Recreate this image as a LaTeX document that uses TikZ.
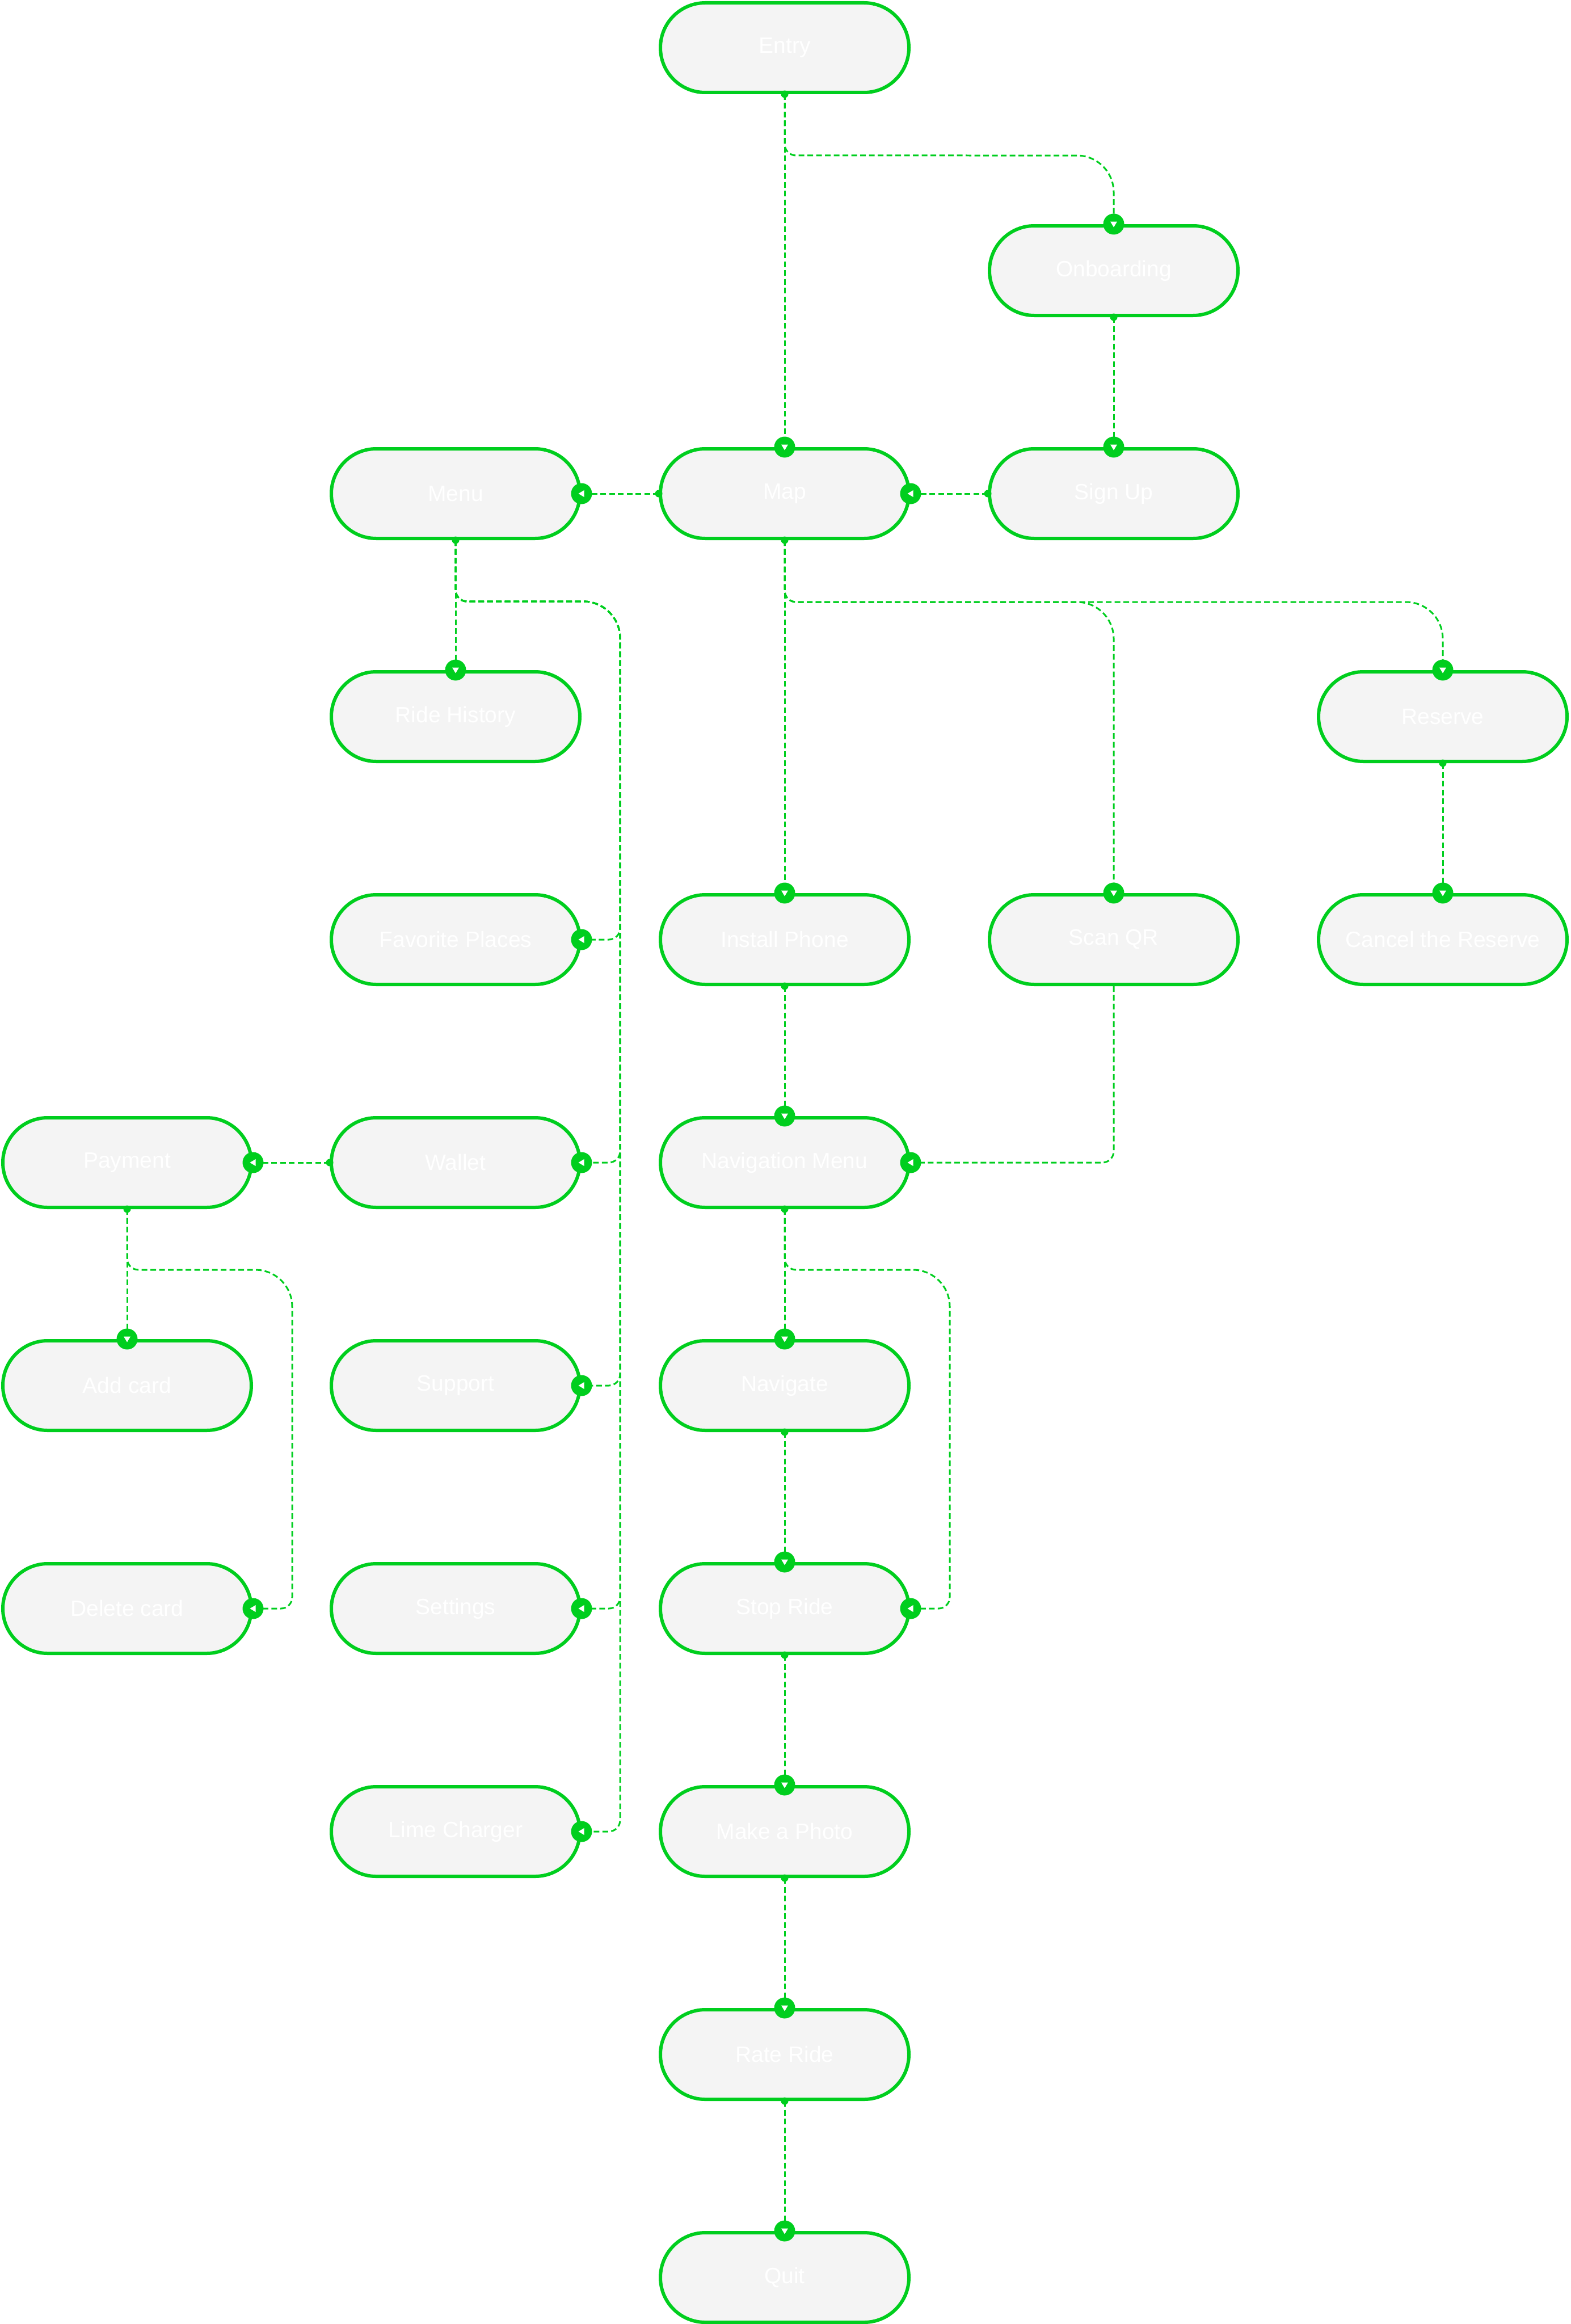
\documentclass[tikz,border=0pt]{standalone}
\usepackage{fontspec}
\setmainfont{Liberation Sans}
\usetikzlibrary{calc}
\definecolor{flowgreen}{RGB}{0,206,30}
\definecolor{flowgray}{RGB}{244,244,244}

% round end tip with a small white triangle, #2 = turn (0 = down)
\newcommand{\tipin}[2]{%
  \begin{scope}[shift={#1}, rotate=#2]
    \fill[flowgreen] (0,0) circle (0.185);
    \fill[white] (0,-0.055) -- (-0.06,0.045) -- (0.06,0.045) -- cycle;
  \end{scope}}
\newcommand{\tipout}[1]{\fill[flowgreen] #1 circle (0.065);}

\begin{document}
\begin{tikzpicture}[
	screen/.style = {draw=flowgreen, line width=0.6mm, fill=flowgray,
		rounded corners=0.79cm, minimum width=4.38cm, minimum height=1.58cm,
		text=white, font=\fontsize{11.1}{13}\selectfont},
	link/.style = {draw=flowgreen, line width=0.3mm, dash pattern=on 1mm off 0.55mm},
]
	\useasboundingbox (0,0) rectangle (27.69,-40.96);

	\def \colA {2.24}
	\def \colB {8.03}
	\def \colC {13.83}
	\def \colD {19.63}
	\def \colE {25.43}
	\def \topY {-0.84}
	\def \rowH {3.93}
	\def \trunkMenu {10.93}
	\def \trunkNav {16.74}
	\def \trunkPay {5.15}

%screens
	\node[screen] (Entry) at (\colC, {\topY}) {Entry};
	\node[screen] (Onboarding) at (\colD, {\topY-1*\rowH}) {Onboarding};
	\node[screen] (Menu) at (\colB, {\topY-2*\rowH}) {Menu};
	\node[screen] (Map) at (\colC, {\topY-2*\rowH}) {Map};
	\node[screen] (SignUp) at (\colD, {\topY-2*\rowH}) {Sign Up};
	\node[screen] (RideHistory) at (\colB, {\topY-3*\rowH}) {Ride History};
	\node[screen] (Reserve) at (\colE, {\topY-3*\rowH}) {Reserve};
	\node[screen] (FavPlaces) at (\colB, {\topY-4*\rowH}) {Favorite Places};
	\node[screen] (InstallPhone) at (\colC, {\topY-4*\rowH}) {Install Phone};
	\node[screen] (ScanQR) at (\colD, {\topY-4*\rowH}) {Scan QR};
	\node[screen] (CancelReserve) at (\colE, {\topY-4*\rowH}) {Cancel the Reserve};
	\node[screen] (Payment) at (\colA, {\topY-5*\rowH}) {Payment};
	\node[screen] (Wallet) at (\colB, {\topY-5*\rowH}) {Wallet};
	\node[screen] (NavMenu) at (\colC, {\topY-5*\rowH}) {Navigation Menu};
	\node[screen] (AddCard) at (\colA, {\topY-6*\rowH}) {Add card};
	\node[screen] (Support) at (\colB, {\topY-6*\rowH}) {Support};
	\node[screen] (Navigate) at (\colC, {\topY-6*\rowH}) {Navigate};
	\node[screen] (DeleteCard) at (\colA, {\topY-7*\rowH}) {Delete card};
	\node[screen] (Settings) at (\colB, {\topY-7*\rowH}) {Settings};
	\node[screen] (StopRide) at (\colC, {\topY-7*\rowH}) {Stop Ride};
	\node[screen] (LimeCharger) at (\colB, {\topY-8*\rowH}) {Lime Charger};
	\node[screen] (MakePhoto) at (\colC, {\topY-8*\rowH}) {Make a Photo};
	\node[screen] (RateRide) at (\colC, {\topY-9*\rowH}) {Rate Ride};
	\node[screen] (Quit) at (\colC, {\topY-10*\rowH}) {Quit};

%straight links
	\foreach \a/\b in {Entry/Map, Onboarding/SignUp, Menu/RideHistory, Map/InstallPhone,
		Reserve/CancelReserve, InstallPhone/NavMenu, NavMenu/Navigate, Navigate/StopRide,
		StopRide/MakePhoto, MakePhoto/RateRide, RateRide/Quit, Payment/AddCard}
		\draw[link] (\a.south) -- (\b.north);
	\draw[link] (SignUp.west) -- (Map.east);
	\draw[link] (Map.west) -- (Menu.east);
	\draw[link] (Wallet.west) -- (Payment.east);

%bent links
	\draw[link] (Entry.south) -- (\colC,-2.54) arc[start angle=180, end angle=270, radius=0.2]
		-- ({\colD-0.65},-2.74) arc[start angle=90, end angle=0, radius=0.65] -- (Onboarding.north);
	\draw[link] (Map.south) -- (\colC,-10.41) arc[start angle=180, end angle=270, radius=0.2]
		-- ({\colD-0.65},-10.61) arc[start angle=90, end angle=0, radius=0.65] -- (ScanQR.north);
	\draw[link] (Map.south) -- (\colC,-10.41) arc[start angle=180, end angle=270, radius=0.2]
		-- ({\colE-0.65},-10.61) arc[start angle=90, end angle=0, radius=0.65] -- (Reserve.north);
	\foreach \n in {FavPlaces, Wallet, Support, Settings, LimeCharger}
		\draw[link] (Menu.south) -- (\colB,-10.40) arc[start angle=180, end angle=270, radius=0.2]
			-- ({\trunkMenu-0.65},-10.60) arc[start angle=90, end angle=0, radius=0.65]
			-- ($(\n.east -| \trunkMenu,0)+(0,0.2)$) arc[start angle=0, end angle=-90, radius=0.2]
			-- (\n.east);
	\draw[link] (ScanQR.south) -- ($(NavMenu.east -| ScanQR.south)+(0,0.2)$)
		arc[start angle=0, end angle=-90, radius=0.2] -- (NavMenu.east);
	\draw[link] (NavMenu.south) -- (\colC,-22.18) arc[start angle=180, end angle=270, radius=0.2]
		-- ({\trunkNav-0.65},-22.38) arc[start angle=90, end angle=0, radius=0.65]
		-- ($(StopRide.east -| \trunkNav,0)+(0,0.2)$) arc[start angle=0, end angle=-90, radius=0.2]
		-- (StopRide.east);
	\draw[link] (Payment.south) -- (\colA,-22.18) arc[start angle=180, end angle=270, radius=0.2]
		-- ({\trunkPay-0.65},-22.38) arc[start angle=90, end angle=0, radius=0.65]
		-- ($(DeleteCard.east -| \trunkPay,0)+(0,0.2)$) arc[start angle=0, end angle=-90, radius=0.2]
		-- (DeleteCard.east);

%start dots and end tips
	\foreach \n in {Entry.south, Onboarding.south, SignUp.west, Map.west, Map.south, Menu.south,
		Reserve.south, InstallPhone.south, NavMenu.south, Navigate.south, StopRide.south,
		MakePhoto.south, RateRide.south, Payment.south, Wallet.west}
		{\tipout{(\n)}}
	\foreach \n in {Map, Onboarding, SignUp, RideHistory, Reserve, InstallPhone, ScanQR,
		CancelReserve, NavMenu, AddCard, Navigate, StopRide, MakePhoto, RateRide, Quit}
		{\tipin{(\n.north)}{0}}
	\foreach \n in {Menu, Map, Payment, FavPlaces, Wallet, Support, Settings, LimeCharger,
		NavMenu, StopRide, DeleteCard}
		{\tipin{(\n.east)}{-90}}
\end{tikzpicture}
\end{document}
